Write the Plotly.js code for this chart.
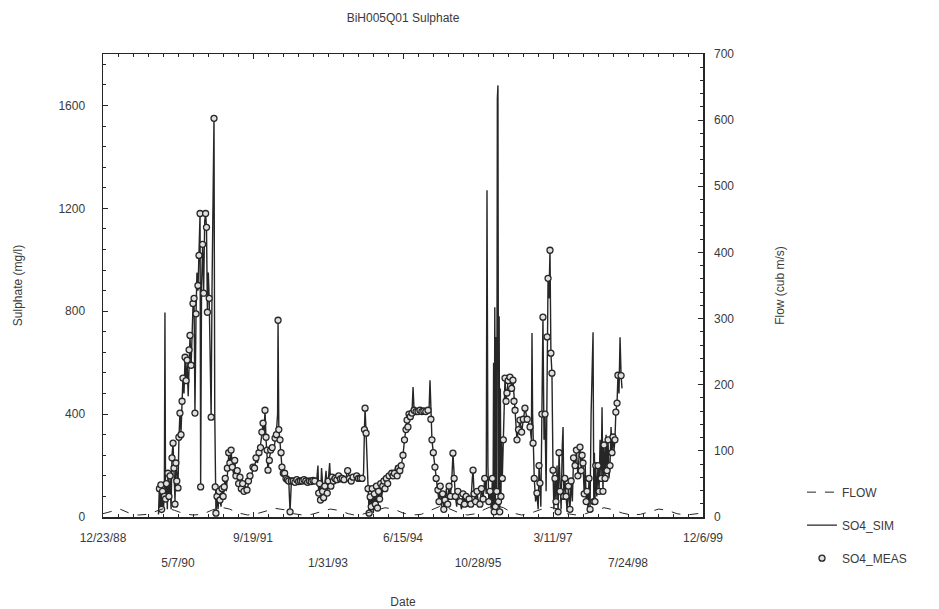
<!DOCTYPE html>
<html>
<head>
<meta charset="utf-8">
<script src="https://cdn.plot.ly/plotly-3.0.1.min.js"></script>
<style>html,body{margin:0;padding:0;background:#fff;}#chart{width:939px;height:609px;}</style>
</head>
<body>
<div id="chart"></div>
<script>
// ---- data ----
const dates = [
'1989-12-28','1990-01-03','1990-01-08','1990-01-13','1990-01-18','1990-01-24','1990-01-30','1990-02-05',
'1990-02-09','1990-02-13','1990-02-19','1990-02-25','1990-03-01','1990-03-08','1990-03-15','1990-03-22',
'1990-03-28','1990-04-04','1990-04-10','1990-04-17','1990-04-23','1990-04-29','1990-05-07','1990-05-13',
'1990-05-20','1990-05-27','1990-06-03','1990-06-09','1990-06-16','1990-06-23','1990-06-30','1990-07-07',
'1990-07-14','1990-07-20','1990-07-26','1990-08-02','1990-08-09','1990-08-15','1990-08-22','1990-08-28',
'1990-09-04','1990-09-10','1990-09-17','1990-09-24','1990-10-01','1990-10-05','1990-10-11','1990-10-18',
'1990-10-25','1990-11-01','1990-11-07','1990-11-13','1990-11-19','1990-11-25','1990-12-01','1990-12-08',
'1990-12-14','1990-12-20','1991-01-02','1991-01-07','1991-01-10','1991-01-15','1991-01-22','1991-01-29',
'1991-02-05','1991-02-11','1991-02-18','1991-02-25','1991-03-04','1991-03-11','1991-03-18','1991-03-25',
'1991-04-01','1991-04-10','1991-04-18','1991-04-26','1991-05-04','1991-05-12','1991-05-20','1991-05-28',
'1991-06-06','1991-06-15','1991-06-24','1991-07-03','1991-07-12','1991-07-21','1991-07-30','1991-08-10',
'1991-08-20','1991-08-30','1991-09-08','1991-09-19','1991-09-29','1991-10-09','1991-10-19','1991-10-29',
'1991-11-08','1991-11-17','1991-11-25','1991-12-02','1991-12-08','1991-12-15','1991-12-22','1991-12-28',
'1992-01-06','1992-01-15','1992-01-25','1992-02-04','1992-02-13','1992-02-22','1992-03-01','1992-03-04',
'1992-03-09','1992-03-17','1992-03-24','1992-03-30','1992-04-08','1992-04-17','1992-04-26','1992-05-05',
'1992-05-14','1992-05-23','1992-06-01','1992-06-13','1992-06-25','1992-07-07','1992-07-19','1992-07-31',
'1992-08-12','1992-08-24','1992-09-05','1992-09-17','1992-09-29','1992-10-11','1992-10-23','1992-11-04',
'1992-11-16','1992-11-25','1992-11-30','1992-12-06','1992-12-12','1992-12-19','1992-12-26','1993-01-02',
'1993-01-10','1993-01-18','1993-01-26','1993-02-03','1993-02-11','1993-02-19','1993-02-27','1993-03-08',
'1993-03-19','1993-03-31','1993-04-12','1993-04-24','1993-05-06','1993-05-18','1993-05-30','1993-06-11',
'1993-06-23','1993-07-05','1993-07-17','1993-07-29','1993-08-10','1993-08-22','1993-09-03','1993-09-15',
'1993-09-25','1993-10-01','1993-10-05','1993-10-12','1993-10-18','1993-10-25','1993-11-01','1993-11-08',
'1993-11-15','1993-11-22','1993-11-29','1993-12-06','1993-12-13','1993-12-20','1993-12-27','1994-01-03',
'1994-01-10','1994-01-17','1994-01-24','1994-01-31','1994-02-08','1994-02-15','1994-02-24','1994-03-05',
'1994-03-14','1994-03-23','1994-04-01','1994-04-10','1994-04-19','1994-04-28','1994-05-07','1994-05-16',
'1994-05-25','1994-06-03','1994-06-15','1994-06-25','1994-07-05','1994-07-12','1994-07-18','1994-07-25',
'1994-08-03','1994-08-14','1994-08-21','1994-08-28','1994-09-10','1994-09-23','1994-10-06','1994-10-19',
'1994-11-01','1994-11-14','1994-11-29','1994-12-06','1994-12-12','1994-12-18','1994-12-25','1995-01-03',
'1995-01-14','1995-01-22','1995-01-29','1995-02-03','1995-02-10','1995-02-18','1995-02-26','1995-03-06',
'1995-03-14','1995-03-22','1995-03-31','1995-04-09','1995-04-18','1995-04-27','1995-05-06','1995-05-14',
'1995-05-22','1995-05-30','1995-06-08','1995-06-16','1995-06-30','1995-07-10','1995-07-20','1995-07-30',
'1995-08-10','1995-08-20','1995-08-30','1995-09-10','1995-09-20','1995-09-25','1995-10-02','1995-10-12',
'1995-10-22','1995-11-01','1995-11-10','1995-11-20','1995-12-01','1995-12-12','1995-12-22','1995-12-27',
'1996-01-02','1996-01-08','1996-01-16','1996-01-24','1996-02-01','1996-02-05','1996-02-09','1996-02-13',
'1996-02-17','1996-02-21','1996-02-25','1996-03-01','1996-03-05','1996-03-09','1996-03-13','1996-03-17',
'1996-03-21','1996-03-25','1996-03-29','1996-04-02','1996-04-07','1996-04-14','1996-04-25','1996-05-02',
'1996-05-08','1996-05-16','1996-05-28','1996-06-08','1996-06-17','1996-06-24','1996-07-01','1996-07-08',
'1996-07-14','1996-07-24','1996-08-03','1996-08-14','1996-08-25','1996-09-05','1996-09-20','1996-10-09',
'1996-10-18','1996-10-22','1996-10-26','1996-10-29','1996-11-06','1996-11-15','1996-11-24','1996-12-02',
'1996-12-08','1996-12-14','1996-12-20','1996-12-27','1997-01-03','1997-01-10','1997-01-17','1997-01-24',
'1997-01-31','1997-02-06','1997-02-12','1997-02-19','1997-02-25','1997-03-04','1997-03-11','1997-03-17',
'1997-03-24','1997-03-31','1997-04-07','1997-04-14','1997-04-20','1997-04-27','1997-05-04','1997-05-12',
'1997-05-17','1997-05-22','1997-05-29','1997-06-06','1997-06-14','1997-06-22','1997-07-02','1997-07-10',
'1997-07-18','1997-07-26','1997-08-05','1997-08-14','1997-08-24','1997-09-02','1997-09-07','1997-09-15',
'1997-09-21','1997-09-27','1997-10-05','1997-10-12','1997-10-18','1997-10-24','1997-10-31','1997-11-06',
'1997-11-13','1997-11-20','1997-11-26','1997-12-03','1997-12-08','1997-12-12','1997-12-16','1997-12-21',
'1997-12-28','1998-01-05','1998-01-12','1998-01-19','1998-01-26','1998-02-01','1998-02-07','1998-02-14',
'1998-02-21','1998-02-28','1998-03-06','1998-03-13','1998-03-19','1998-03-26','1998-04-02','1998-04-08',
'1998-04-15','1998-04-22','1998-04-28','1998-05-04','1998-05-12','1998-05-18','1998-05-25','1998-06-01',
'1998-06-08','1998-06-14'
];
const so4Sim = [
10,120,20,130,15,110,25,90,
795,60,140,30,170,70,150,30,
240,287,180,60,220,150,113,300,
404,330,460,540,480,621,520,600,
470,640,706,580,760,820,850,404,
780,950,880,1017,1180,117,900,1050,
880,1150,1180,1126,796,950,850,600,
388,900,1550,400,117,15,80,30,
90,66,40,120,70,117,160,100,
180,240,200,260,194,170,230,150,
190,120,155,100,140,90,120,105,
130,170,150,194,200,220,210,240,
280,320,365,330,415,300,250,182,
230,250,280,260,307,330,400,765,
350,290,240,194,180,165,155,150,
145,20,140,145,138,142,140,145,
138,140,143,138,142,140,145,140,
138,200,90,140,66,190,100,70,
130,180,93,150,210,120,160,140,
150,145,160,150,155,145,150,185,
150,145,155,150,160,150,155,150,
170,340,423,326,200,120,20,78,
30,110,15,90,40,120,30,100,
60,130,80,120,140,110,150,135,
160,150,170,160,175,200,165,190,
180,200,240,300,340,377,350,400,
390,404,505,415,412,410,412,410,
412,410,415,420,532,380,300,250,
194,150,120,105,60,120,40,90,
30,66,110,50,120,80,140,248,
150,80,40,100,60,30,90,50,
80,40,70,50,150,182,90,60,
100,40,50,110,70,150,90,1270,
200,60,100,30,150,10,600,20,
815,40,700,100,1627,1678,60,780,
20,500,80,300,150,300,540,450,
482,530,544,500,532,450,415,350,
300,340,377,330,380,423,380,350,
300,715,400,287,150,60,93,30,
200,132,40,400,777,300,400,100,
700,928,850,1037,637,559,182,30,
150,60,200,20,250,100,30,280,
350,80,150,80,20,120,30,140,
60,230,200,260,160,250,272,180,
240,210,90,200,60,100,20,150,
30,400,621,718,60,250,60,200,
80,200,100,300,150,427,100,280,
150,320,180,300,150,200,350,250,
311,260,300,408,443,551,480,699,
550,500
];
const so4Meas = [
null,110,null,125,30,100,null,80,
null,70,130,null,170,80,160,null,
230,287,190,50,210,140,113,310,
404,320,450,540,null,621,530,610,
null,650,706,590,null,830,850,404,
790,null,900,1017,1180,117,null,1060,
870,null,1180,1126,796,null,850,null,
388,null,1550,null,117,15,80,null,
100,66,null,110,80,117,150,null,
190,250,210,260,194,null,220,160,
180,130,155,110,130,100,null,105,
140,160,null,194,190,230,null,250,
270,330,365,null,415,310,260,182,
220,260,270,null,307,320,null,765,
340,300,250,194,170,170,150,145,
140,20,140,140,135,145,138,140,
140,145,140,135,140,138,142,140,
null,null,93,130,66,null,100,75,
120,null,93,140,null,120,155,140,
150,145,160,148,150,145,null,180,
150,140,155,null,160,150,150,150,
null,340,423,326,null,110,15,78,
40,110,null,90,50,120,35,100,
70,130,null,120,140,110,150,130,
160,null,170,160,170,null,160,190,
180,200,240,300,340,377,350,400,
390,404,null,415,410,410,415,410,
412,410,415,null,null,380,300,250,
194,150,null,105,60,120,null,90,
30,66,null,50,120,80,null,248,
150,80,null,100,60,null,90,50,
80,null,70,50,null,182,90,60,
100,null,50,110,70,150,null,null,
null,60,100,null,150,null,null,20,
null,40,null,100,null,null,60,null,
20,null,80,null,150,300,540,450,
482,530,544,500,532,450,415,null,
300,340,377,330,380,423,380,350,
null,null,null,287,150,null,93,null,
200,132,null,400,777,null,400,null,
700,928,null,1037,637,559,182,null,
150,60,null,20,250,100,null,null,
null,80,150,80,null,120,30,140,
null,230,200,260,160,null,272,180,
240,210,90,null,60,100,null,150,
30,null,null,null,60,null,60,200,
null,200,100,null,150,null,100,280,
150,null,180,300,null,200,null,250,
311,null,300,408,443,551,null,null,
550,null
];
const flowDates = [
'1988-12-23','1989-02-15','1989-04-15','1989-06-15','1989-08-15','1989-10-15','1989-12-15',
'1990-02-15','1990-04-15','1990-06-15','1990-08-15','1990-10-15','1990-12-15',
'1991-02-15','1991-04-15','1991-06-15','1991-08-15','1991-10-15','1991-12-15',
'1992-02-15','1992-04-15','1992-06-15','1992-08-15','1992-10-15','1992-12-15',
'1993-02-15','1993-04-15','1993-06-15','1993-08-15','1993-10-15','1993-12-15',
'1994-02-15','1994-04-15','1994-06-15','1994-08-15','1994-10-15','1994-12-15',
'1995-02-15','1995-04-15','1995-06-15','1995-08-15','1995-10-15','1995-12-15',
'1996-02-15','1996-04-15','1996-06-15','1996-08-15','1996-10-15','1996-12-15',
'1997-02-15','1997-04-15','1997-06-15','1997-08-15','1997-10-15','1997-12-15',
'1998-02-15','1998-04-15','1998-06-15','1998-08-15','1998-10-15','1998-12-15',
'1999-02-15','1999-04-15','1999-06-15','1999-08-15','1999-10-15','1999-12-06'
];
const flowValues = [
5,8,12,6,3,4,9,
14,10,5,3,4,10,
15,12,6,3,5,9,
13,11,5,3,4,8,
12,10,5,2,6,11,
14,12,6,3,4,10,
16,13,7,3,5,12,
18,14,6,3,6,11,
15,12,5,3,5,10,
14,11,6,3,4,8,
12,10,5,3,4,6
];
const tickDates = ['1988-12-23','1990-05-07','1991-09-19','1993-01-31','1994-06-15','1995-10-28','1997-03-11','1998-07-24','1999-12-06'];
const tickLabels = ['12/23/88','5/7/90','9/19/91','1/31/93','6/15/94','10/28/95','3/11/97','7/24/98','12/6/99'];

// ---- chart ----
const upperVals = tickDates.filter((d,i)=>i%2===0), upperText = tickLabels.filter((d,i)=>i%2===0);
const lowerVals = tickDates.filter((d,i)=>i%2===1), lowerText = tickLabels.filter((d,i)=>i%2===1);
const ink = '#262626', txt = '#3a3a3a';
const xRange = ['1988-12-23','1999-12-06'];

const traces = [
  {x: flowDates, y: flowValues, name: 'FLOW', type: 'scatter', mode: 'lines', xaxis: 'x2', yaxis: 'y2',
   line: {color: ink, width: 1, dash: 'dash'}, legendgroup: 'a'},
  {x: dates, y: so4Sim, name: 'SO4_SIM', type: 'scatter', mode: 'lines',
   line: {color: ink, width: 1.4}, legendgroup: 'b'},
  {x: dates, y: so4Meas, name: 'SO4_MEAS', type: 'scatter', mode: 'markers',
   marker: {symbol: 'circle', size: 6, color: '#e0e0e0', line: {color: ink, width: 1.3}}, legendgroup: 'c'}
];

const layout = {
  width: 939, height: 609,
  margin: {l: 103, r: 236, t: 54, b: 92},
  paper_bgcolor: '#fff', plot_bgcolor: '#fff',
  font: {family: 'Liberation Sans, Arial, sans-serif', size: 12, color: txt},
  showlegend: true,
  title: {text: 'BiH005Q01 Sulphate', x: 0.5, xref: 'paper', y: 1 - 18/609, yref: 'container', yanchor: 'middle',
          font: {size: 12, color: txt}},
  xaxis: {type: 'date', range: xRange, tickmode: 'array', tickvals: upperVals, ticktext: upperText,
          ticks: 'inside', ticklen: 5, tickcolor: ink, showline: true, linecolor: ink, linewidth: 1.5,
          mirror: 'allticks', showgrid: false, zeroline: false, ticklabelstandoff: 9,
          minor: {ticks: 'inside', ticklen: 3, tickcolor: ink, tick0: '1988-12-23', dtick: 100*86400000, showgrid: false}},
  xaxis2: {type: 'date', range: xRange, overlaying: 'x', matches: 'x', anchor: 'y2', side: 'bottom',
           tickmode: 'array', tickvals: lowerVals, ticktext: lowerText, ticks: '', showline: false,
           showgrid: false, zeroline: false, ticklabelstandoff: 37,
           title: {text: 'Date', standoff: 28, font: {size: 12, color: txt}}},
  yaxis: {range: [0, 1800], tickvals: [0, 400, 800, 1200, 1600], ticks: 'inside', ticklen: 5, tickcolor: ink,
          showline: true, linecolor: ink, linewidth: 1.5, mirror: true, showgrid: false, zeroline: false,
          ticklabelstandoff: 14,
          minor: {ticks: 'inside', ticklen: 3, tickcolor: ink, dtick: 80, showgrid: false},
          title: {text: 'Sulphate (mg/l)', standoff: 33, font: {size: 12, color: txt}}},
  yaxis2: {range: [0, 700], overlaying: 'y', side: 'right', anchor: 'x2', dtick: 100, ticks: 'inside', ticklen: 5,
           tickcolor: ink, showline: false, showgrid: false, zeroline: false, ticklabelstandoff: 10,
           minor: {ticks: 'inside', ticklen: 3, tickcolor: ink, dtick: 20, showgrid: false},
           title: {text: 'Flow (cub m/s)', standoff: 42, font: {size: 12, color: txt}}},
  legend: {x: 1.165, xanchor: 'left', y: 0.085, yanchor: 'top', traceorder: 'grouped', tracegroupgap: 14,
           font: {size: 12, color: txt}, bgcolor: 'rgba(0,0,0,0)'}
};

Plotly.newPlot('chart', traces, layout, {displayModeBar: false, staticPlot: true});
</script>
</body>
</html>
